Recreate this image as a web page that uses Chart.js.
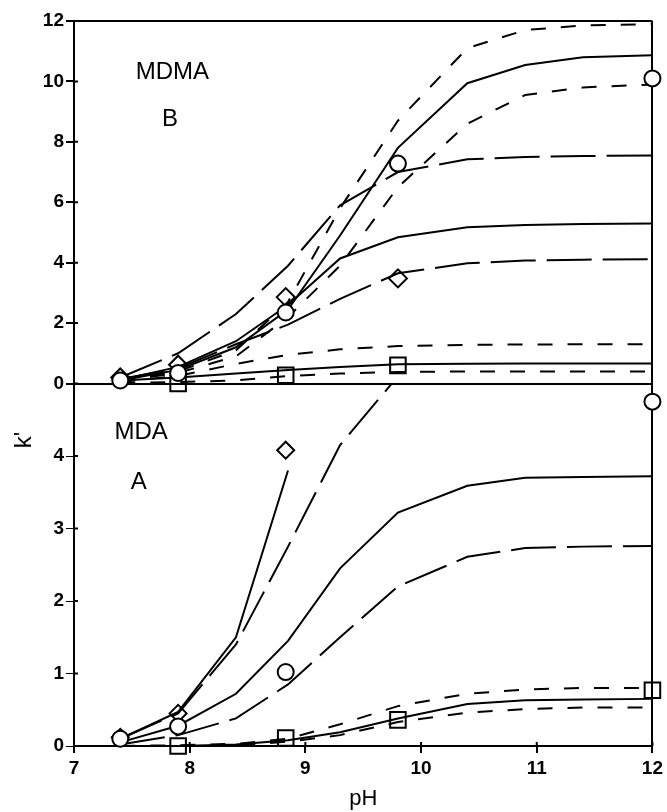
<!DOCTYPE html>
<html>
<head>
<meta charset="utf-8">
<script src="https://cdn.jsdelivr.net/npm/chart.js@4.4.1/dist/chart.umd.min.js"></script>
<style>
  html, body { margin: 0; padding: 0; background: #fff; }
</style>
</head>
<body>
<canvas id="kchart" width="667" height="812"></canvas>
<script>
// pH values where the theoretical curves were computed
const phGrid = [7.4, 7.9, 8.4, 8.85, 9.3, 9.8, 10.4, 10.9, 11.4, 12];

// panel B - MDMA (top)
const mdmaShort1 = [0.1, 0.4, 1.1, 2.7, 5.8, 8.7, 11.1, 11.7, 11.85, 11.9];
const mdmaSolid1 = [0.1, 0.45, 1.2, 2.45, 4.9, 7.8, 9.94, 10.54, 10.8, 10.87];
const mdmaShort2 = [0.08, 0.35, 0.9, 2.2, 3.9, 6.5, 8.6, 9.55, 9.8, 9.9];
const mdmaLong1 = [0.2, 1.0, 2.3, 3.9, 5.9, 7.0, 7.42, 7.5, 7.53, 7.55];
const mdmaSolid2 = [0.12, 0.55, 1.4, 2.6, 4.14, 4.84, 5.17, 5.25, 5.28, 5.3];
const mdmaLong2 = [0.15, 0.5, 1.3, 1.95, 2.8, 3.65, 3.98, 4.07, 4.1, 4.11];
const mdmaShort3 = [0.05, 0.25, 0.65, 0.95, 1.13, 1.24, 1.28, 1.29, 1.3, 1.3];
const mdmaSolid3 = [0.1, 0.2, 0.33, 0.45, 0.55, 0.64, 0.65, 0.66, 0.66, 0.66];
const mdmaShort4 = [0.02, 0.05, 0.1, 0.25, 0.33, 0.38, 0.4, 0.4, 0.4, 0.4];

const mdmaCirclePH = [7.4, 7.9, 8.83, 9.8, 12];
const mdmaCircle = [0.1, 0.35, 2.35, 7.28, 10.1];
const mdmaDiamondPH = [7.4, 7.9, 8.83, 9.8];
const mdmaDiamond = [0.2, 0.62, 2.86, 3.48];
const mdmaSquarePH = [7.9, 8.83, 9.8];
const mdmaSquare = [0.0, 0.27, 0.6];

// panel A - MDA (bottom)
const mdaSolid1 = [0.1, 0.47, 1.5, 3.8];
const mdaLong1 = [0.1, 0.45, 1.4, 2.75, 4.15, 5.1];
const mdaSolid2 = [0.05, 0.28, 0.72, 1.45, 2.45, 3.22, 3.59, 3.7, 3.71, 3.72];
const mdaLong2 = [0.02, 0.15, 0.38, 0.85, 1.5, 2.2, 2.61, 2.73, 2.75, 2.76];
const mdaShort1 = [0.0, 0.01, 0.03, 0.1, 0.3, 0.55, 0.72, 0.78, 0.8, 0.8];
const mdaSolid3 = [0.0, 0.0, 0.02, 0.08, 0.19, 0.38, 0.58, 0.63, 0.64, 0.65];
const mdaShort2 = [0.0, 0.0, 0.01, 0.06, 0.15, 0.33, 0.46, 0.51, 0.53, 0.53];

const mdaCirclePH = [7.4, 7.9, 8.83, 12];
const mdaCircle = [0.1, 0.27, 1.02, 4.75];
const mdaDiamondPH = [7.4, 7.9, 8.83];
const mdaDiamond = [0.12, 0.45, 4.08];
const mdaSquarePH = [7.9, 8.83, 9.8, 12];
const mdaSquare = [0.0, 0.11, 0.36, 0.77];

const notes = [
  {text: 'MDMA', x: 7.85, y: 10.3, axis: 'yB'},
  {text: 'B', x: 7.83, y: 8.75, axis: 'yB'},
  {text: 'MDA', x: 7.58, y: 4.33, axis: 'yA'},
  {text: 'A', x: 7.56, y: 3.63, axis: 'yA'}
];

const FONT = '"Liberation Sans", Arial, sans-serif';
const SOLID = [];
const SHORT = [15, 15];
const LONG = [45, 11];

const pts = (xs, ys) => ys.map((y, i) => ({x: xs[i], y: y}));

const curve = (ys, axis, dash) => ({
  data: pts(phGrid, ys),
  yAxisID: axis,
  borderColor: '#000',
  borderWidth: 2,
  borderDash: dash,
  pointRadius: 0,
  fill: false,
  order: 1
});

const marks = (xs, ys, axis, style, r) => ({
  data: pts(xs, ys),
  yAxisID: axis,
  showLine: false,
  pointStyle: style,
  pointRadius: r,
  pointBorderWidth: 2,
  borderColor: '#000',
  backgroundColor: style === 'circle' ? '#fff' : 'rgba(0,0,0,0)',
  clip: false,
  order: 0
});

// panel labels, the rotated k' title, and the short tick stubs inside the frame
const panelText = {
  id: 'panelText',
  afterDraw(chart) {
    const ctx = chart.ctx;
    const x = chart.scales.x;
    ctx.save();
    ctx.strokeStyle = '#000';
    ctx.lineWidth = 2;
    ctx.beginPath();
    x.ticks.forEach(t => {
      const px = x.getPixelForValue(t.value);
      ctx.moveTo(px, x.top);
      ctx.lineTo(px, x.top - 4);
    });
    ['yA', 'yB'].forEach(id => {
      const s = chart.scales[id];
      s.ticks.forEach(t => {
        const py = s.getPixelForValue(t.value);
        ctx.moveTo(s.right, py);
        ctx.lineTo(s.right + 4, py);
      });
    });
    ctx.stroke();

    ctx.fillStyle = '#000';
    ctx.textAlign = 'center';
    ctx.textBaseline = 'middle';
    ctx.font = '24px ' + FONT;
    notes.forEach(n => {
      ctx.fillText(n.text, x.getPixelForValue(n.x), chart.scales[n.axis].getPixelForValue(n.y));
    });
    const yA = chart.scales.yA;
    ctx.translate(yA.left + 24, yA.getPixelForValue(4.22));
    ctx.rotate(-Math.PI / 2);
    ctx.fillText("k'", 0, 0);
    ctx.restore();
  }
};

const tickFont = {family: FONT, size: 19, weight: 'bold'};

new Chart(document.getElementById('kchart'), {
  type: 'line',
  data: {
    datasets: [
      marks(mdmaCirclePH, mdmaCircle, 'yB', 'circle', 8),
      marks(mdmaDiamondPH, mdmaDiamond, 'yB', 'rectRot', 9),
      marks(mdmaSquarePH, mdmaSquare, 'yB', 'rect', 11),
      marks(mdaCirclePH, mdaCircle, 'yA', 'circle', 8),
      marks(mdaDiamondPH, mdaDiamond, 'yA', 'rectRot', 8.5),
      marks(mdaSquarePH, mdaSquare, 'yA', 'rect', 11),

      curve(mdmaShort1, 'yB', SHORT),
      curve(mdmaSolid1, 'yB', SOLID),
      curve(mdmaShort2, 'yB', SHORT),
      curve(mdmaLong1, 'yB', LONG),
      curve(mdmaSolid2, 'yB', SOLID),
      curve(mdmaLong2, 'yB', LONG),
      curve(mdmaShort3, 'yB', SHORT),
      curve(mdmaSolid3, 'yB', SOLID),
      curve(mdmaShort4, 'yB', SHORT),

      curve(mdaSolid1, 'yA', SOLID),
      curve(mdaLong1, 'yA', LONG),
      curve(mdaSolid2, 'yA', SOLID),
      curve(mdaLong2, 'yA', LONG),
      curve(mdaShort1, 'yA', SHORT),
      curve(mdaSolid3, 'yA', SOLID),
      curve(mdaShort2, 'yA', SHORT)
    ]
  },
  options: {
    responsive: false,
    animation: false,
    layout: { padding: { top: 21, right: 13, left: 0, bottom: 0 } },
    plugins: {
      legend: { display: false },
      tooltip: { enabled: false }
    },
    scales: {
      x: {
        type: 'linear',
        min: 7,
        max: 12,
        ticks: { stepSize: 1, color: '#000', font: tickFont, padding: 4 },
        grid: {
          color: ctx => ctx.tick && ctx.tick.value === 12 ? '#000' : 'rgba(0,0,0,0)',
          lineWidth: 2,
          tickColor: '#000',
          tickLength: 7
        },
        border: { color: '#000', width: 2 },
        title: { display: true, text: 'pH', color: '#000', font: {family: FONT, size: 22}, padding: 0 },
        afterFit: s => { s.height = 66; }
      },
      yA: {
        type: 'linear',
        position: 'left',
        stack: 'k',
        stackWeight: 1,
        min: 0,
        max: 5,
        ticks: { stepSize: 1, color: '#000', font: tickFont, padding: 2 },
        afterBuildTicks: s => { s.ticks = s.ticks.filter(t => t.value <= 4); },
        grid: {
          color: 'rgba(0,0,0,0)',
          tickColor: '#000',
          tickLength: 8
        },
        border: { color: '#000', width: 2 },
        afterFit: s => { s.width = 74; }
      },
      yB: {
        type: 'linear',
        position: 'left',
        stack: 'k',
        stackWeight: 1,
        min: 0,
        max: 12,
        ticks: { stepSize: 2, color: '#000', font: tickFont, padding: 2 },
        grid: {
          color: ctx => ctx.tick && (ctx.tick.value === 0 || ctx.tick.value === 12) ? '#000' : 'rgba(0,0,0,0)',
          lineWidth: 2,
          tickColor: '#000',
          tickLength: 8
        },
        border: { color: '#000', width: 2 },
        afterFit: s => { s.width = 74; }
      }
    }
  },
  plugins: [panelText]
});
</script>
</body>
</html>
